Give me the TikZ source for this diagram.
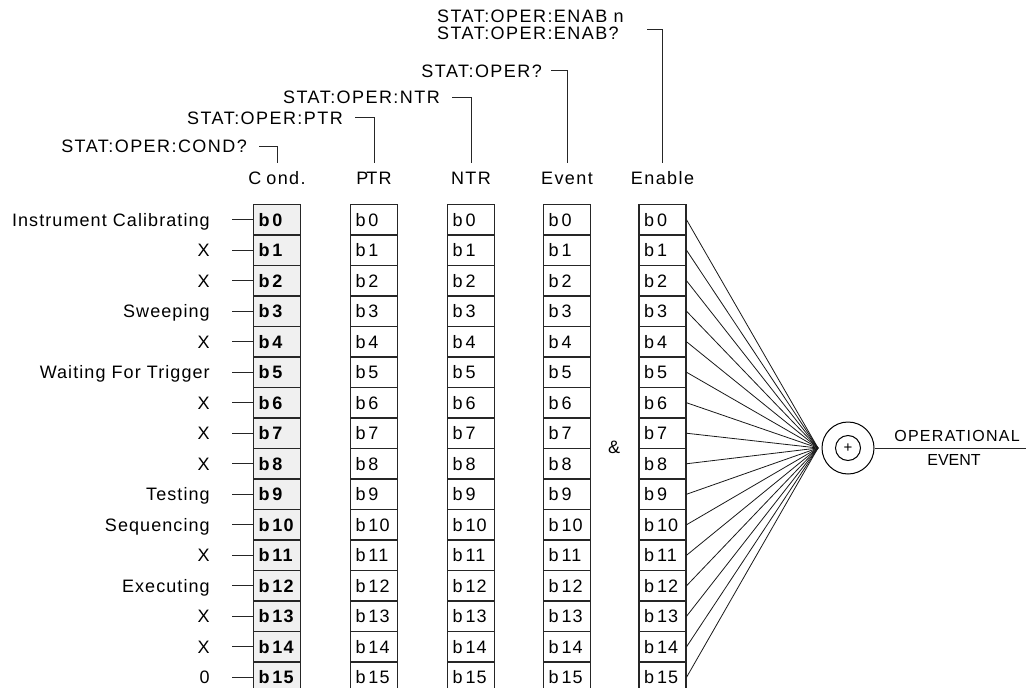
\documentclass[tikz,border=0pt]{standalone}
\usepackage{fontspec}
\setmainfont{Liberation Sans}[LetterSpace=6]
\newfontfamily\widefont{Liberation Sans}[LetterSpace=8]
\newfontfamily\plainfont{Liberation Sans}
\usepackage{tikz}
\usetikzlibrary{positioning,calc}

\begin{document}
\begin{tikzpicture}[x=1pt, y=-1pt,
  every node/.style={font=\fontsize{18}{18}\selectfont, inner sep=0pt},
  cell/.style={draw=black!85, line width=1.1pt, minimum width=47pt, minimum height=30.5pt,
    inner xsep=5pt, text width=37pt, align=left},
  condcell/.style={cell, fill=gray!12, font=\fontsize{18}{18}\selectfont\bfseries},
  hdr/.style={anchor=base, font=\fontsize{18}{18}\widefont},
  cmd/.style={anchor=base east, font=\fontsize{18}{18}\widefont},
  lbl/.style={anchor=east, text height=12.9pt, text depth=0pt},
  wire/.style={line width=1pt, black!85},
  fanwire/.style={line width=0.8pt, black!90},
]

%% ── Page frame ───────────────────────────────────────────────────────────
\useasboundingbox (0,0) rectangle (1026,688);
\clip (0,0) rectangle (1026,688);

%% ── Condition register (shaded, bold bits) ───────────────────────────────
\foreach \i in {0,...,15} {
  \node[condcell] (c\i) at (277, {219.75+30.5*\i}) {b\hspace{3pt}\i};
}

%% ── PTR / NTR / Event / Enable registers ─────────────────────────────────
\foreach \col/\x in {p/374, n/471, v/567, e/662.5} {
  \foreach \i in {0,...,15} {
    \node[cell] (\col\i) at (\x, {219.75+30.5*\i}) {b\hspace{3pt}\i};
  }
}

%% ── Condition inputs ─────────────────────────────────────────────────────
\foreach \i/\txt in {0/Instrument Calibrating, 1/X, 2/X, 3/Sweeping, 4/X,
    5/Waiting For Trigger, 6/X, 7/X, 8/X, 9/Testing, 10/Sequencing, 11/X,
    12/Executing, 13/X, 14/X, 15/0} {
  \node[lbl, left=43pt of c\i] (l\i) {\txt};
  \draw[wire] (c\i.west) -- ++(-21,0);
}

%% ── Column headings ──────────────────────────────────────────────────────
\node[hdr] (hcond)  at (277,184)   {C\hspace{5pt}ond.};
\node[hdr] (hptr)   at (374,184)   {P\kern-2pt TR};
\node[hdr] (hntr)   at (471,184)   {NTR};
\node[hdr] (hevent) at (567,184)   {Event};
\node[hdr] (henab)  at (662.5,184) {Enable};

%% ── SCPI queries with their brackets ─────────────────────────────────────
\node[cmd] (qcond)  at (247,152.7) {STAT:OPER:COND?};
\node[cmd] (qptr)   at (343,124)   {STAT:OPER:PTR};
\node[cmd] (qntr)   at (440,103.5) {STAT:OPER:NTR};
\node[cmd] (qevent) at (542,77)    {STAT:OPER?};
\node[anchor=base west, font=\fontsize{18}{18}\widefont] (qenab)  at (437,22)   {STAT:OPER:ENAB n};
\node[anchor=base west, font=\fontsize{18}{18}\widefont] (qenabq) at (437,39.5) {STAT:OPER:ENAB?};
\coordinate (benab) at (647,29);

\draw[wire] ([xshift=12pt]qcond.east)  -| ([yshift=8pt]hcond.north);
\draw[wire] ([xshift=12pt]qptr.east)   -| ([yshift=8pt]hptr.north);
\draw[wire] ([xshift=12pt]qntr.east)   -| ([yshift=8pt]hntr.north);
\draw[wire] ([xshift=9pt]qevent.east)  -| ([yshift=8pt]hevent.north);
\draw[wire] (benab) -| ([yshift=8pt]henab.north);

%% ── AND of Event & Enable, then OR into the summary bit ─────────────────
\node (amp) at (614,447) {\&};
\coordinate (fan) at (818,448);
\foreach \i in {0,...,15} {
  \draw[fanwire] (e\i.east) -- (fan);
}
\node[draw, circle, minimum size=52pt, line width=1pt] (sum) at (848,448) {};
\node[draw, circle, minimum size=25pt, line width=1pt,
  font=\fontsize{15}{15}\plainfont] (sumin) at (sum) {+};
\coordinate (out) at (1026,448);
\draw[wire] (sum.east) -- (out);
\node[anchor=base, font=\fontsize{16}{16}\widefont] (opl) at (957,441) {OPERATIONAL};
\node[anchor=base, font=\fontsize{16}{16}\plainfont] (evl) at (954,465) {EVENT};

\end{tikzpicture}
\end{document}
